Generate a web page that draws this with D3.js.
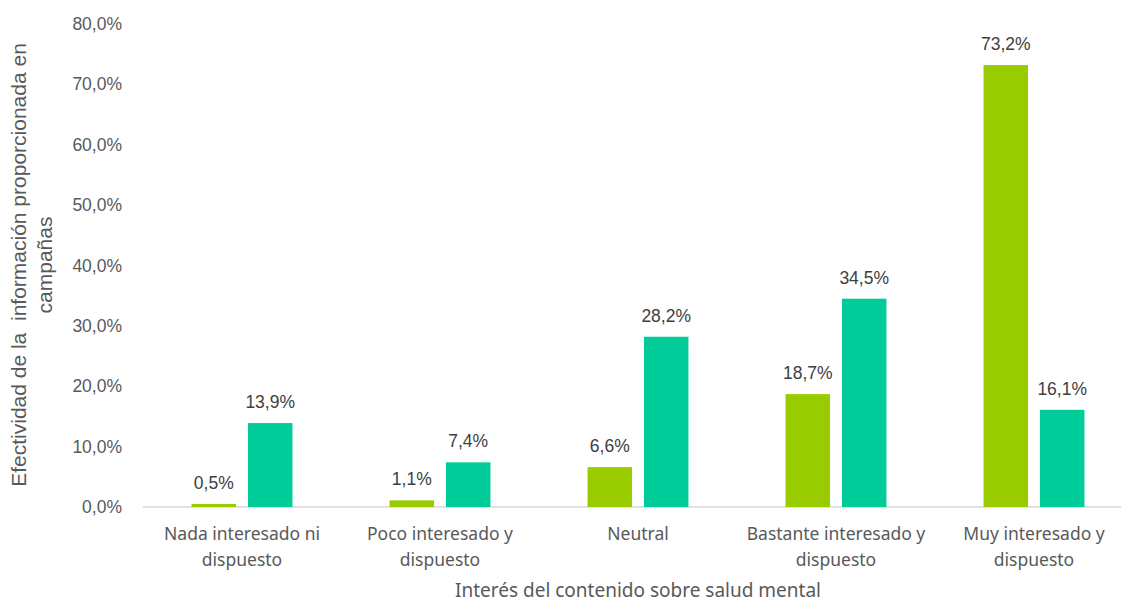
<!DOCTYPE html>
<html>
<head>
<meta charset="utf-8">
<script src="https://cdn.jsdelivr.net/npm/d3@7"></script>
<style>
  html, body { margin: 0; padding: 0; background: #fff; }
  svg { display: block; }
</style>
</head>
<body>
<svg id="chart" width="1121" height="604"></svg>
<script>
// Categories (interest level) and the two series plotted for each
const categories = [
  ["Nada interesado ni", "dispuesto"],
  ["Poco interesado y", "dispuesto"],
  ["Neutral"],
  ["Bastante interesado y", "dispuesto"],
  ["Muy interesado y", "dispuesto"]
];
const seriesA = [0.5, 1.1, 6.6, 18.7, 73.2];
const seriesB = [13.9, 7.4, 28.2, 34.5, 16.1];
const yTicks = [0, 10, 20, 30, 40, 50, 60, 70, 80];

const colors = ["#99CC00", "#00CC99"];
const svg = d3.select("#chart");
const margin = { left: 143, right: -12, top: 24, bottom: 97 };
const W = 1121, H = 604;
const fmt = v => v.toFixed(1).replace(".", ",") + "%";

const x = d3.scaleBand()
  .domain(d3.range(categories.length))
  .range([margin.left, W - margin.right])
  .paddingInner(0).paddingOuter(0);
const y = d3.scaleLinear().domain([0, 80]).range([H - margin.bottom, margin.top]);

const barW = 44.5, offset = 28.2;

// Y tick labels (no gridlines)
const yAxis = svg.append("g")
  .attr("transform", `translate(${margin.left},0)`)
  .call(d3.axisLeft(y).tickValues(yTicks).tickFormat(fmt).tickSize(0).tickPadding(21));
yAxis.select(".domain").remove();
yAxis.selectAll("text")
  .attr("font-family", "Liberation Sans, Arial, sans-serif")
  .attr("font-size", 17.5)
  .attr("fill", "#595959");

// Baseline
svg.append("line")
  .attr("x1", margin.left).attr("x2", W)
  .attr("y1", y(0)).attr("y2", y(0))
  .attr("stroke", "#d9d9d9").attr("stroke-width", 1.5);

const series = [seriesA, seriesB];
series.forEach((vals, si) => {
  const dx = si === 0 ? -offset : offset;
  svg.append("g").selectAll("rect")
    .data(vals)
    .join("rect")
    .attr("x", (d, i) => x(i) + x.bandwidth() / 2 + dx - barW / 2)
    .attr("width", barW)
    .attr("y", d => y(d))
    .attr("height", d => y(0) - y(d))
    .attr("fill", colors[si]);

  svg.append("g").selectAll("text")
    .data(vals)
    .join("text")
    .attr("x", (d, i) => x(i) + x.bandwidth() / 2 + dx)
    .attr("y", d => y(d) - 15)
    .attr("text-anchor", "middle")
    .attr("font-family", "Liberation Sans, Arial, sans-serif")
    .attr("font-size", 17.5)
    .attr("fill", "#404040")
    .text(fmt);
});

// Category labels
const catG = svg.append("g").selectAll("text")
  .data(categories)
  .join("text")
  .attr("x", (d, i) => x(i) + x.bandwidth() / 2)
  .attr("y", 540)
  .attr("text-anchor", "middle")
  .attr("font-family", "Noto Sans, sans-serif")
  .attr("font-size", 17.5)
  .attr("fill", "#595959");
catG.each(function(d) {
  const t = d3.select(this);
  d.forEach((line, k) => {
    t.append("tspan")
      .attr("x", t.attr("x"))
      .attr("dy", k === 0 ? 0 : 26)
      .text(line);
  });
});

// Axis titles
svg.append("text")
  .attr("x", 638).attr("y", 597)
  .attr("text-anchor", "middle")
  .attr("font-family", "Noto Sans, sans-serif")
  .attr("font-size", 19)
  .attr("fill", "#595959")
  .text("Interés del contenido sobre salud mental");

const yTitle = svg.append("text")
  .attr("transform", "translate(0,265) rotate(-90)")
  .attr("text-anchor", "middle")
  .attr("font-family", "Liberation Sans, Arial, sans-serif")
  .attr("font-size", 21)
  .attr("fill", "#595959")
  .style("white-space", "pre");
yTitle.append("tspan").attr("x", 0).attr("y", 26).text("Efectividad de la  información proporcionada en");
yTitle.append("tspan").attr("x", 0).attr("y", 52).text("campañas");
</script>
</body>
</html>
